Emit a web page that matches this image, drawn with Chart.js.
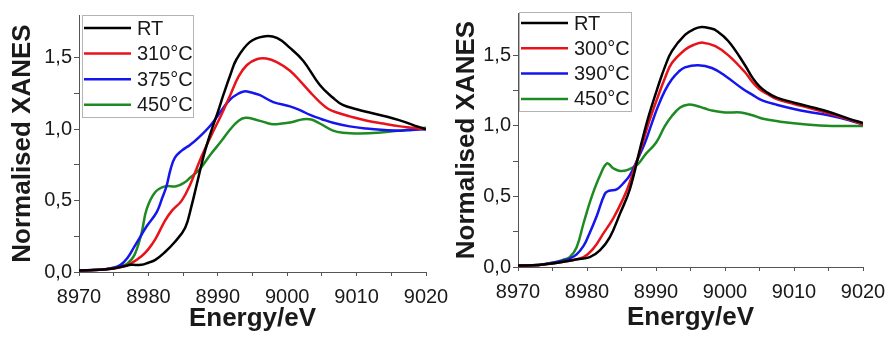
<!DOCTYPE html>
<html>
<head>
<meta charset="utf-8">
<script src="https://cdn.jsdelivr.net/npm/chart.js@4"></script>
<style>
  body { margin: 0; background: #fff; }
  #wrap { position: relative; width: 890px; height: 337px; overflow: hidden; }
  canvas { position: absolute; top: 0; }
  #left { left: 0; }
  #right { left: 445px; }
</style>
</head>
<body>
<div id="wrap">
  <canvas id="left" width="460" height="337"></canvas>
  <canvas id="right" width="445" height="337"></canvas>
</div>
<script>
// [energy eV, normalised XANES]
var leftRT = [[8970,0.01],[8973,0.015],[8975,0.025],[8976.5,0.04],[8977.5,0.05],[8979,0.05],[8980,0.065],[8981,0.085],[8982.4,0.14],[8983.8,0.21],[8985.3,0.31],[8986.2,0.46],[8987,0.62],[8988,0.82],[8989,0.98],[8990,1.12],[8990.8,1.24],[8991.8,1.38],[8992.7,1.49],[8994.6,1.61],[8996.6,1.65],[8998.5,1.64],[9000.4,1.57],[9002.3,1.48],[9004.7,1.31],[9006.6,1.22],[9008,1.17],[9010,1.14],[9012,1.115],[9015.3,1.075],[9017,1.05],[9018.7,1.02],[9020,1.00]];
var left310 = [[8970,0.01],[8973,0.015],[8975,0.025],[8976.5,0.04],[8977.5,0.06],[8979,0.11],[8980,0.16],[8981,0.23],[8982.4,0.36],[8983.4,0.43],[8984.8,0.50],[8986,0.61],[8987.4,0.78],[8989,0.95],[8990.5,1.10],[8991.8,1.24],[8993,1.37],[8994.2,1.45],[8995.6,1.49],[8997,1.495],[8998.5,1.47],[9000.4,1.41],[9002,1.33],[9003.3,1.26],[9004.7,1.19],[9006,1.14],[9007.6,1.11],[9009,1.09],[9011.5,1.06],[9013.8,1.04],[9016.3,1.02],[9018,1.01],[9020,1.00]];
var left375 = [[8970,0.01],[8973,0.015],[8975,0.03],[8976,0.05],[8977,0.1],[8978,0.18],[8979,0.26],[8979.75,0.32],[8981.2,0.42],[8982,0.52],[8982.6,0.60],[8983.2,0.72],[8983.8,0.80],[8984.8,0.85],[8986,0.89],[8987,0.93],[8989,1.03],[8990.5,1.13],[8991.8,1.21],[8993,1.25],[8993.8,1.265],[8995,1.255],[8996,1.24],[8998,1.19],[9000.4,1.16],[9002,1.13],[9003.3,1.10],[9005,1.07],[9006.6,1.045],[9009,1.02],[9011.4,1.005],[9014,0.995],[9016.3,0.99],[9018,0.995],[9020,1.00]];
var left450 = [[8970,0.01],[8973,0.015],[8975,0.03],[8976,0.04],[8977,0.06],[8978,0.12],[8979,0.27],[8979.75,0.44],[8981,0.56],[8982.4,0.60],[8984,0.60],[8985.3,0.63],[8986,0.66],[8987.4,0.72],[8988.9,0.82],[8990.4,0.91],[8991.8,1.0],[8993,1.06],[8994,1.08],[8995.6,1.065],[8997,1.045],[8998,1.035],[8999,1.038],[9000.4,1.047],[9002.3,1.07],[9003.5,1.068],[9004.7,1.04],[9006.6,0.99],[9008,0.975],[9010.5,0.97],[9013,0.975],[9016,0.99],[9018,1.00],[9020,1.01]];

var rightRT = [[8970,0.01],[8973,0.015],[8975,0.025],[8977,0.04],[8978.5,0.055],[8980.4,0.07],[8981.9,0.12],[8983.3,0.21],[8984.8,0.38],[8986.2,0.55],[8987.9,0.88],[8989,1.08],[8990.3,1.28],[8991.3,1.42],[8992.3,1.53],[8994.2,1.645],[8995.5,1.685],[8996.6,1.70],[8998,1.69],[8998.6,1.68],[9000.5,1.60],[9002.9,1.43],[9004,1.34],[9005,1.28],[9006,1.24],[9007.5,1.20],[9010,1.165],[9012,1.14],[9015,1.10],[9018,1.05],[9020,1.02]];
var right300 = [[8970,0.01],[8973,0.015],[8975,0.025],[8977.5,0.045],[8979.5,0.07],[8980.9,0.13],[8982.4,0.24],[8983.8,0.345],[8985.3,0.49],[8986.2,0.60],[8987.9,0.853],[8989,1.03],[8990.3,1.21],[8991.3,1.34],[8992.3,1.445],[8994.2,1.54],[8995.5,1.575],[8996.8,1.59],[8998.6,1.565],[9000.5,1.50],[9002.9,1.38],[9004,1.31],[9005,1.26],[9006,1.23],[9007.5,1.19],[9010,1.155],[9012,1.13],[9015,1.09],[9018,1.045],[9020,1.01]];
var right390 = [[8970,0.01],[8973,0.015],[8975,0.03],[8976.5,0.045],[8977.5,0.06],[8978.5,0.09],[8979.5,0.15],[8980.2,0.22],[8981.4,0.36],[8982.6,0.52],[8983.2,0.54],[8984.3,0.55],[8985.2,0.59],[8986.2,0.65],[8987.3,0.76],[8988.4,0.88],[8989.4,1.02],[8990.3,1.14],[8991.3,1.25],[8992.3,1.33],[8993.3,1.385],[8994.2,1.415],[8996.1,1.43],[8998.1,1.41],[9000,1.355],[9002.5,1.265],[9004,1.22],[9005,1.19],[9006,1.17],[9007.5,1.15],[9010,1.12],[9012,1.10],[9015,1.075],[9018,1.04],[9020,1.01]];
var right450 = [[8970,0.01],[8973,0.015],[8975,0.03],[8976.5,0.05],[8977.5,0.07],[8978.5,0.14],[8979.5,0.31],[8980.7,0.50],[8981.9,0.65],[8982.9,0.735],[8983.8,0.70],[8984.8,0.68],[8986,0.69],[8987.4,0.73],[8988.5,0.80],[8990,0.88],[8991.3,1.0],[8992.3,1.07],[8993.5,1.13],[8994.6,1.15],[8995.7,1.145],[8997,1.125],[8998,1.11],[9000,1.095],[9002.3,1.095],[9004,1.075],[9005.5,1.05],[9008,1.03],[9011.8,1.01],[9015.5,1.0],[9020,1.00]];

var leftLabels = ['RT', '310\u00b0C', '375\u00b0C', '450\u00b0C'];
var rightLabels = ['RT', '300\u00b0C', '390\u00b0C', '450\u00b0C'];
var colors = ['#000000', '#e8131a', '#1515ee', '#1e8a22'];

var FONT = '"Liberation Sans", Arial, sans-serif';

// legend drawn as a box inside the plot, like the Origin figure
var legendBox = {
  id: 'legendBox',
  afterDraw: function(chart, args, o) {
    var ctx = chart.ctx;
    ctx.save();
    ctx.fillStyle = '#fff';
    ctx.fillRect(o.x, o.y, o.w, o.h);
    ctx.strokeStyle = '#b4b4b4';
    ctx.lineWidth = 1;
    ctx.strokeRect(o.x + 0.5, o.y + 0.5, o.w, o.h);
    ctx.font = '20px ' + FONT;
    ctx.textBaseline = 'middle';
    chart.data.datasets.forEach(function(ds, i) {
      var y = o.y + o.first + i * o.row;
      ctx.strokeStyle = ds.borderColor;
      ctx.lineWidth = 2.5;
      ctx.beginPath();
      ctx.moveTo(o.x + 2, y);
      ctx.lineTo(o.x + 49, y);
      ctx.stroke();
      ctx.fillStyle = '#1a1a1a';
      ctx.fillText(ds.label, o.x + 55, y + 1);
    });
    ctx.restore();
  }
};

function toPts(arr) {
  return arr.map(function(p) { return {x: p[0], y: p[1]}; });
}

function makeChart(id, series, labels, g) {
  var datasets = series.map(function(s, i) {
    return {
      label: labels[i],
      data: toPts(s),
      borderColor: colors[i],
      borderWidth: 2.5,
      pointRadius: 0,
      fill: false,
      tension: 0.4
    };
  });
  return new Chart(document.getElementById(id), {
    type: 'line',
    data: { datasets: datasets },
    options: {
      responsive: false,
      animation: false,
      devicePixelRatio: 1,
      layout: { padding: { left: 0, top: g.top, right: g.right, bottom: 0 } },
      plugins: {
        legend: { display: false },
        tooltip: { enabled: false },
        legendBox: g.legend
      },
      scales: {
        x: {
          type: 'linear', min: 8970, max: 9020,
          ticks: {
            stepSize: 5, autoSkip: false, maxRotation: 0, padding: 9,
            color: '#1a1a1a', font: { family: FONT, size: 20 },
            callback: function(v) { return v % 10 === 0 ? String(v) : ''; }
          },
          grid: { drawOnChartArea: false, tickLength: 4, color: '#555' },
          border: { color: '#555', width: 1 },
          title: {
            display: true, text: 'Energy/eV', color: '#1a1a1a',
            font: { family: FONT, size: 26, weight: 'bold', lineHeight: 1.2 },
            padding: { top: 0, bottom: g.xTitlePad }
          },
          afterFit: function(s) { s.height = g.xAxisH; s.paddingLeft = 0; s.paddingRight = 0; }
        },
        y: {
          min: 0, max: 1.8,
          afterBuildTicks: function(s) { s.ticks = s.ticks.filter(function(t) { return t.value < 1.76; }); },
          ticks: {
            stepSize: 0.25, autoSkip: false, padding: 2,
            color: '#1a1a1a', font: { family: FONT, size: 20 },
            callback: function(v) {
              return Math.abs(v * 2 - Math.round(v * 2)) < 1e-6 ? v.toFixed(1).replace('.', ',') : '';
            }
          },
          grid: { drawOnChartArea: false, tickLength: 5, color: '#555' },
          border: { color: '#555', width: 1 },
          title: {
            display: true, text: 'Normalised XANES', color: '#1a1a1a',
            font: { family: FONT, size: 26, weight: 'bold', lineHeight: 1.2 },
            padding: { top: g.yTitlePad, bottom: 0 }
          },
          afterFit: function(s) { s.width = g.yAxisW; s.paddingTop = 0; s.paddingBottom = 0; }
        }
      }
    },
    plugins: [legendBox]
  });
}

makeChart('left', [leftRT, left310, left375, left450], leftLabels, {
  top: 15, right: 34, yAxisW: 79, xAxisH: 65, xTitlePad: 2.4, yTitlePad: 7.4,
  legend: { x: 82, y: 15, w: 111, h: 102, first: 13, row: 25.6 }
});

makeChart('right', [rightRT, right300, right390, right450], rightLabels, {
  top: 13, right: 27, yAxisW: 73, xAxisH: 70, xTitlePad: 3.9, yTitlePad: 6.4,
  legend: { x: 74, y: 12, w: 112, h: 99, first: 11, row: 25.3 }
});
</script>
</body>
</html>
